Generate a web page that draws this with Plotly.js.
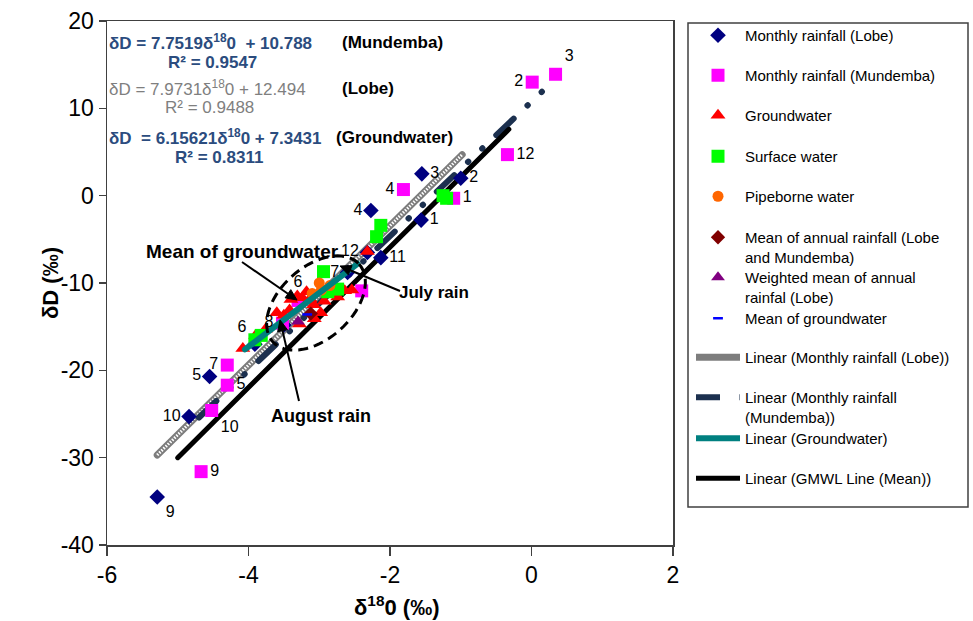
<!DOCTYPE html>
<html><head><meta charset="utf-8">
<script src="https://cdn.plot.ly/plotly-3.0.1.min.js"></script>
<style>
html,body{margin:0;padding:0;background:#fff;}
.scatterlayer .js-line{stroke-linecap:round;stroke-linejoin:round;}
.scatterlayer .trace:nth-of-type(2) .js-line{stroke-linecap:butt !important;}
</style>
</head><body>
<div id="chart" style="width:973px;height:621px;"></div>
<script>
// ---------- data ----------
const lobeX = [-5.29, -4.84, -4.55, -3.91, -3.50, -2.60, -2.32, -2.13, -2.27, -1.56, -1.55, -1.00];
const lobeY = [-34.5, -25.3, -20.7, -17.0, -14.8, -8.8, -6.5, -7.1, -1.7, -2.8, 2.5, 2.0];
const lobeMonth = ['9', '10', '5', '6', '8', '7', '12', '11', '4', '1', '3', '2'];
const lobeLabelPos = ['bottom right', 'middle left', 'middle left', 'top left', 'top left', 'middle left', 'middle left', 'middle right', 'middle left', 'middle right', 'middle right', 'middle right'];
const lobeLabelShown = [true, true, true, true, false, true, true, true, true, true, true, true];

const mundX = [0.34, 0.01, -0.34, -1.10, -1.81, -2.40, -3.30, -3.52, -4.30, -4.30, -4.52, -4.67];
const mundY = [13.9, 13.0, 4.7, -0.3, 0.7, -10.9, -12.0, -14.6, -19.4, -21.7, -24.6, -31.6];
const mundMonth = ['3', '2', '12', '1', '4', '11', '6', '8', '7', '5', '10', '9'];
const mundLabelPos = ['top right', 'middle left', 'middle right', 'middle right', 'middle left', 'top left', 'top center', 'middle left', 'middle left', 'middle right', 'bottom right', 'middle right'];
const mundLabelShown = [true, true, true, true, true, false, true, true, true, true, true, true];

const gwX = [-4.08, -2.32, -3.40, -3.31, -3.24, -3.18, -3.08, -2.98, -3.28, -3.07, -2.85, -2.74, -2.64, -2.54, -3.50, -3.60, -3.76, -2.93, -2.77, -3.42, -3.90, -3.13];
const gwY = [-17.5, -6.4, -11.9, -11.5, -11.7, -11.0, -12.5, -13.4, -14.7, -14.1, -11.0, -11.6, -10.9, -10.8, -13.7, -13.4, -15.3, -12.1, -10.4, -13.1, -16.0, -11.8];

const swX = [-1.25, -1.20, -2.13, -2.19, -2.94, -2.88, -2.74, -3.82, -3.91];
const swY = [0.0, -0.3, -3.4, -4.7, -8.7, -11.0, -10.7, -16.0, -16.5];

const pipeX = [-3.00, -2.97, -3.10, -2.85];
const pipeY = [-10.0, -10.8, -11.2, -10.3];

const meanAnnualX = [-3.12];
const meanAnnualY = [-13.5];
const weightedX = [-3.30];
const weightedY = [-14.4];
const meanGwX = [-3.17];
const meanGwY = [-13.6];

const lobeFitX = [-5.29, -0.98];
const lobeFitY = [-29.7, 4.7];
const mundFitX = [-4.70, 0.33];
const mundFitY = [-25.4, 13.3];
const gwFitX = [-4.05, -2.46];
const gwFitY = [-17.6, -7.8];
const gmwlX = [-5.0, -0.32];
const gmwlY = [-30.0, 7.6];

const xTicks = [-6, -4, -2, 0, 2];
const yTicks = [-40, -30, -20, -10, 0, 10, 20];

const legendNames = [
  'Monthly rainfall (Lobe)',
  'Monthly rainfall (Mundemba)',
  'Groundwater',
  'Surface water',
  'Pipeborne water',
  'Mean of annual rainfall (Lobe<br>and Mundemba)',
  'Weighted mean of annual<br>rainfal (Lobe)',
  'Mean of groundwater',
  'Linear (Monthly rainfall (Lobe))',
  'Linear (Monthly rainfall<br>(Mundemba))',
  'Linear (Groundwater)',
  'Linear (GMWL Line (Mean))'
];

// ---------- geometry helpers ----------
const PL = 107, PR = 673, PT = 21, PB = 545;
const W = PR - PL, H = PB - PT;
const pxX = p => (p - PL) / W;
const pxY = p => (PB - p) / H;
const FONT = 'Liberation Sans, Arial, sans-serif';

const legendRowsPx = [36, 76, 116, 157, 197, 238, 278, 319, 358, 398, 439, 479];
const legKey = i => (i === 0 ? 'legend' : 'legend' + (i + 1));

const pick = (arr, mask) => arr.filter((v, i) => mask[i]);

const traces = [];
// fit lines (under markers)
traces.push({x: lobeFitX, y: lobeFitY, mode: 'lines', name: legendNames[8], legend: legKey(8),
  line: {color: '#7d7d7d', width: 7}, hoverinfo: 'skip'});
traces.push({x: lobeFitX, y: lobeFitY, mode: 'lines', showlegend: false,
  line: {color: '#ffffff', width: 3, dash: '1.5px,1.5px'}, hoverinfo: 'skip'});
traces.push({x: mundFitX, y: mundFitY, mode: 'lines', name: legendNames[9], legend: legKey(9),
  line: {color: '#1c304f', width: 6, dash: '24px,19px,0.5px,19px,0.5px,19px'}, hoverinfo: 'skip'});
traces.push({x: gmwlX, y: gmwlY, mode: 'lines', name: legendNames[11], legend: legKey(11),
  line: {color: '#000000', width: 5}, hoverinfo: 'skip'});

// markers
traces.push({x: lobeX, y: lobeY, mode: 'markers', name: legendNames[0], legend: legKey(0),
  marker: {symbol: 'diamond', size: 12, color: '#000080'}});
traces.push({x: mundX, y: mundY, mode: 'markers', name: legendNames[1], legend: legKey(1),
  marker: {symbol: 'square', size: 13, color: '#ff00ff'}});
traces.push({x: gwX, y: gwY, mode: 'markers', name: legendNames[2], legend: legKey(2),
  marker: {symbol: 'triangle-up', size: 13, color: '#ff0000'}});
traces.push({x: swX, y: swY, mode: 'markers', name: legendNames[3], legend: legKey(3),
  marker: {symbol: 'square', size: 13, color: '#00ff00'}});
traces.push({x: pipeX, y: pipeY, mode: 'markers', name: legendNames[4], legend: legKey(4),
  marker: {symbol: 'circle', size: 11, color: '#ff6600'}});
traces.push({x: meanAnnualX, y: meanAnnualY, mode: 'markers', name: legendNames[5], legend: legKey(5),
  marker: {symbol: 'diamond', size: 11, color: '#800000'}});
traces.push({x: weightedX, y: weightedY, mode: 'markers', name: legendNames[6], legend: legKey(6),
  marker: {symbol: 'triangle-up', size: 12, color: '#800080'}});
traces.push({x: meanGwX, y: meanGwY, mode: 'markers', name: legendNames[7], legend: legKey(7),
  marker: {symbol: 'line-ew', size: 7, color: '#0000ff', line: {color: '#0000ff', width: 2.5}}});

// groundwater fit on top
traces.push({x: gwFitX, y: gwFitY, mode: 'lines', name: legendNames[10], legend: legKey(10),
  line: {color: '#008080', width: 6}, hoverinfo: 'skip'});

// month labels (invisible markers give the text its offset)
traces.push({x: pick(lobeX, lobeLabelShown), y: pick(lobeY, lobeLabelShown), mode: 'markers+text',
  text: pick(lobeMonth, lobeLabelShown), textposition: pick(lobeLabelPos, lobeLabelShown),
  marker: {size: 12, opacity: 0}, textfont: {family: FONT, size: 16, color: '#000'},
  showlegend: false, hoverinfo: 'skip'});
traces.push({x: pick(mundX, mundLabelShown), y: pick(mundY, mundLabelShown), mode: 'markers+text',
  text: pick(mundMonth, mundLabelShown), textposition: pick(mundLabelPos, mundLabelShown),
  marker: {size: 13, opacity: 0}, textfont: {family: FONT, size: 16, color: '#000'},
  showlegend: false, hoverinfo: 'skip'});

// ---------- layout ----------
const annotations = [];
function txt(text, xpx, ypx, size, color, opts) {
  annotations.push(Object.assign({text: text, x: pxX(xpx), y: pxY(ypx), xref: 'paper', yref: 'paper',
    xanchor: 'left', yanchor: 'middle', showarrow: false,
    font: {family: FONT, size: size, color: color}}, opts || {}));
}
const blue = '#2b4c7e', grey = '#7f7f7f';
txt('<b>δD = 7.7519δ<sup>18</sup>0  + 10.788</b>', 107, 42, 17, blue);
txt('<b>(Mundemba)</b>', 340, 42, 17, '#000');
txt('<b>R² = 0.9547</b>', 166, 63, 17, blue);
txt('δD = 7.9731δ<sup>18</sup>0 + 12.494', 107, 88, 17, grey);
txt('<b>(Lobe)</b>', 340, 88, 17, '#000');
txt('R² = 0.9488', 163, 108, 17, grey);
txt('<b>δD  = 6.15621δ<sup>18</sup>0 + 7.3431</b>', 107, 137, 17, blue);
txt('<b>(Groundwater)</b>', 334, 137, 17, '#000');
txt('<b>R² = 0.8311</b>', 173, 158, 17, blue);

txt('<b>Mean of groundwater</b>', 242, 251, 19, '#000', {xanchor: 'center'});
txt('<b>July rain</b>', 434, 292, 17, '#000', {xanchor: 'center'});
txt('<b>August rain</b>', 321, 416, 18, '#000', {xanchor: 'center'});

// axis titles placed as in the reference
txt('<b>δ<sup>18</sup>0 (‰)</b>', 396, 606, 22, '#000', {xanchor: 'center'});
txt('<b>δD (‰)</b>', 50, 283, 22, '#000', {xanchor: 'center', textangle: -90});

const shapes = [];
function arrow(hx, hy, tx, ty) {
  const dx = hx - tx, dy = hy - ty, L = Math.hypot(dx, dy);
  const ux = dx / L, uy = dy / L, hl = 11, hw = 5;
  const bx = hx - ux * hl, by = hy - uy * hl;
  shapes.push({type: 'line', xref: 'paper', yref: 'paper', x0: pxX(tx), y0: pxY(ty), x1: pxX(bx), y1: pxY(by),
    line: {color: '#000', width: 2}});
  const p = 'M' + pxX(hx) + ',' + pxY(hy) + 'L' + pxX(bx - uy * hw) + ',' + pxY(by + ux * hw) +
    'L' + pxX(bx + uy * hw) + ',' + pxY(by - ux * hw) + 'Z';
  shapes.push({type: 'path', path: p, xref: 'paper', yref: 'paper', fillcolor: '#000', line: {color: '#000', width: 1}});
}
arrow(297, 300, 242, 262);
arrow(340, 266, 400, 291);
arrow(280, 320, 299, 401);

// dashed ellipse
const cx = 316, cy = 303, ea = 58, eb = 36, phi = 42 * Math.PI / 180;
let path = '';
for (let k = 0; k <= 72; k++) {
  const t = k / 72 * 2 * Math.PI;
  const X = cx + ea * Math.cos(t) * Math.cos(phi) + eb * Math.sin(t) * Math.sin(phi);
  const Y = cy - ea * Math.cos(t) * Math.sin(phi) + eb * Math.sin(t) * Math.cos(phi);
  path += (k === 0 ? 'M' : 'L') + pxX(X).toFixed(5) + ',' + pxY(Y).toFixed(5);
}
path += 'Z';
shapes.push({type: 'path', path: path, xref: 'paper', yref: 'paper', line: {color: '#000', width: 3, dash: '10px,6px'}});
shapes.push({type: 'rect', xref: 'paper', yref: 'paper', x0: pxX(688), x1: pxX(968), y0: pxY(23), y1: pxY(507),
  line: {color: '#404040', width: 1.5}, fillcolor: 'rgba(0,0,0,0)', layer: 'below'});

const layout = {
  width: 973, height: 621,
  margin: {l: PL, r: 973 - PR, t: PT, b: 621 - PB, pad: 0},
  paper_bgcolor: '#fff', plot_bgcolor: '#fff',
  font: {family: FONT, color: '#000'},
  showlegend: true,
  xaxis: {range: [-6, 2], tickvals: xTicks, ticktext: xTicks.map(String), showgrid: false, zeroline: false,
    showline: true, linecolor: '#404040', linewidth: 1.5, mirror: true,
    ticks: 'outside', ticklen: 9, tickwidth: 1.5, tickcolor: '#404040',
    tickfont: {family: FONT, size: 23, color: '#000'}},
  yaxis: {range: [-40, 20], tickvals: yTicks, ticktext: yTicks.map(String), showgrid: false, zeroline: false,
    showline: true, linecolor: '#404040', linewidth: 1.5, mirror: true,
    ticks: 'outside', ticklen: 7, tickwidth: 1.5, tickcolor: '#404040',
    tickfont: {family: FONT, size: 23, color: '#000'}},
  annotations: annotations,
  shapes: shapes
};

for (let i = 0; i < legendNames.length; i++) {
  layout[legKey(i)] = {
    x: pxX(691), y: pxY(legendRowsPx[i] - 17), xref: 'paper', yref: 'paper',
    xanchor: 'left', yanchor: 'top', bgcolor: 'rgba(0,0,0,0)', borderwidth: 0,
    font: {family: FONT, size: 15, color: '#000'}, valign: 'top', itemwidth: 44,
    tracegroupgap: 0
  };
}

Plotly.newPlot('chart', traces, layout, {displayModeBar: false, staticPlot: true});
</script>
</body></html>
